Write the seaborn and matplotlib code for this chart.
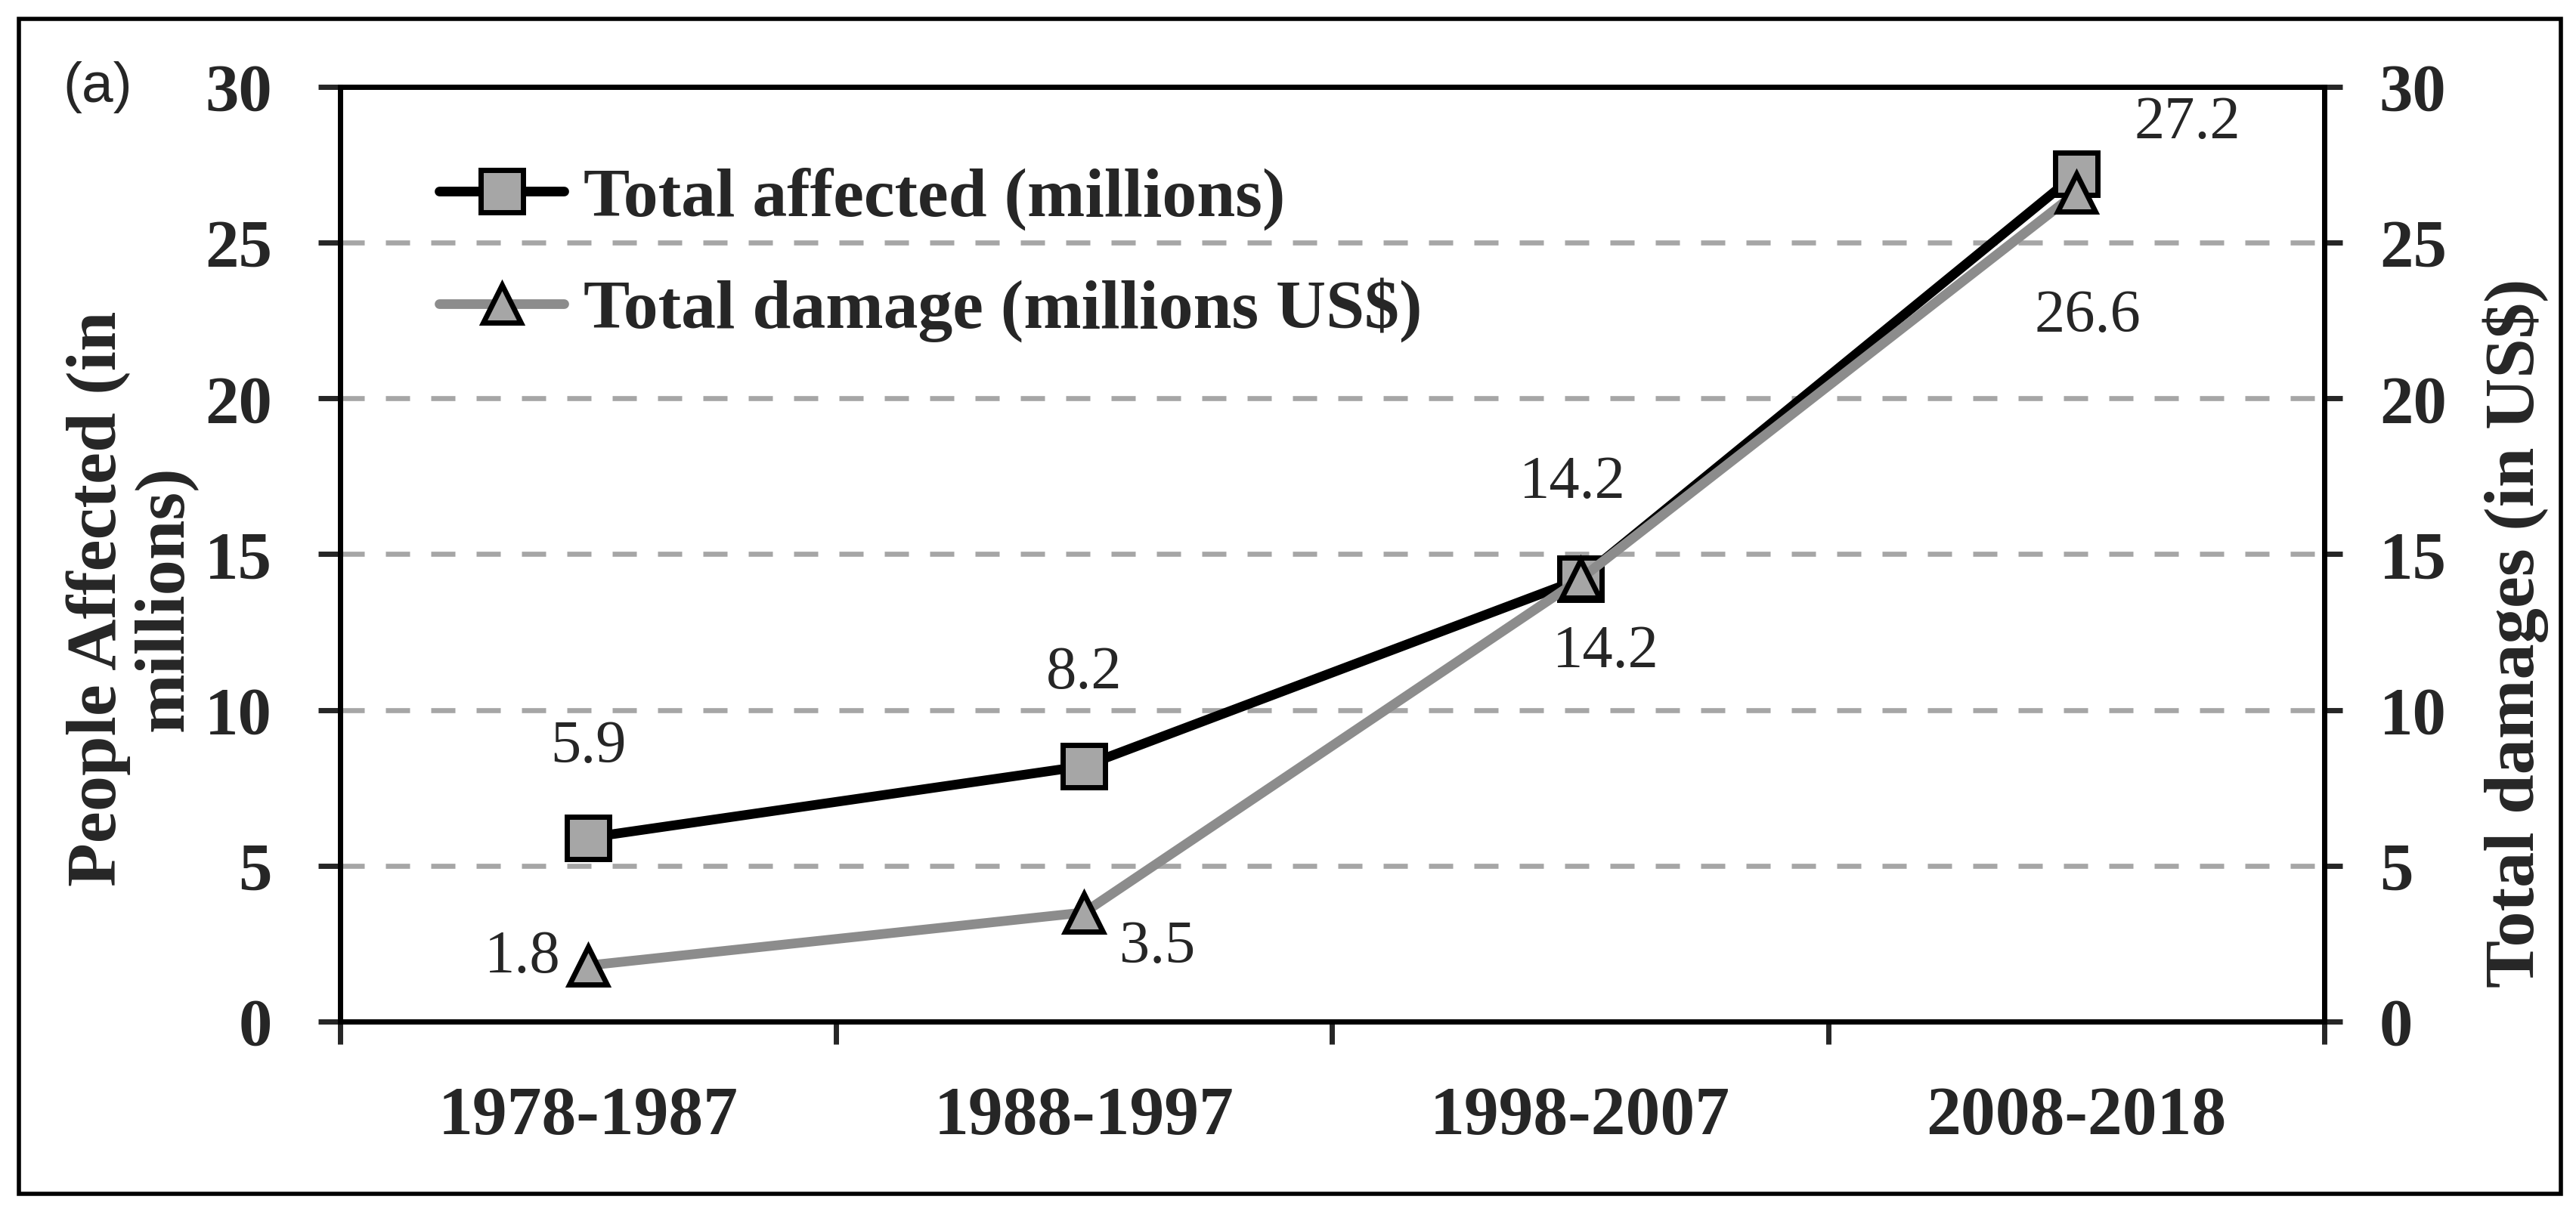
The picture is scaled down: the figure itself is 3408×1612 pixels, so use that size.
import numpy as np
import pandas as pd
import matplotlib
matplotlib.use("Agg")
from matplotlib import pyplot as plt
from matplotlib.patches import Rectangle
import seaborn as sns

# data
periods = ["1978-1987", "1988-1997", "1998-2007", "2008-2018"]
affected = [5.9, 8.2, 14.2, 27.2]
damage = [1.8, 3.5, 14.2, 26.6]
y_ticks = [0, 5, 10, 15, 20, 25, 30]

# label offsets (points) and alignment for each value label
affected_offsets = [(0, 43), (0, 44), (-3.6, 45.7), (53, 24)]
damage_offsets = [(-13, 3.6), (35, -17), (12, -35), (5.4, -59)]
damage_ha = ["right", "center", "center", "center"]

sns.set_style("white")
plt.rcParams['font.family'] = ['Liberation Serif', 'DejaVu Serif']

df = pd.DataFrame({"period": periods, "affected": affected, "damage": damage})
df["pos"] = np.arange(len(periods))

fig, ax = plt.subplots(figsize=(17.04, 8.06), dpi=200)
fig.subplots_adjust(left=0.132, right=0.9023, bottom=0.1613, top=0.9287)

sns.lineplot(data=df, x="pos", y="affected", ax=ax, sort=False, color="black", lw=4.6,
             marker="s", markersize=20, markerfacecolor="#a6a6a6",
             markeredgecolor="black", markeredgewidth=2.5,
             label="Total affected (millions)")
sns.lineplot(data=df, x="pos", y="damage", ax=ax, sort=False, color="#8c8c8c", lw=4.6,
             marker="^", markersize=18, markerfacecolor="#a6a6a6",
             markeredgecolor="black", markeredgewidth=2.5,
             label="Total damage (millions US\\$)")

# value labels
for i, v in enumerate(affected):
    ax.annotate(f"{v:.1f}", (df["pos"][i], v), xytext=affected_offsets[i],
                textcoords="offset points", ha="center", va="center", fontsize=29)
for i, v in enumerate(damage):
    ax.annotate(f"{v:.1f}", (df["pos"][i], v), xytext=damage_offsets[i],
                textcoords="offset points", ha=damage_ha[i], va="center", fontsize=29)

# axes, excel style
ax.set_xlim(-0.5, len(periods) - 0.5)
ax.set_ylim(0, 30)
ax.set_xticks(df["pos"], periods)
ax.set_xticks(np.arange(-0.5, len(periods)), minor=True)
ax.tick_params(axis="x", which="major", length=0, pad=31, labelsize=33)
ax.tick_params(axis="x", which="minor", length=10.8, width=2.5, direction="out", bottom=True)
ax.set_yticks(y_ticks)
ax.tick_params(axis="y", length=10.4, width=2.5, direction="out", left=True, pad=22, labelsize=32)
ax.set_xlabel("")
ax.grid(axis="y", color="#a6a6a6", lw=2.4, linestyle=(0, (4.8, 4.2)))
for s in ax.spines.values():
    s.set_linewidth(2.5)
    s.set_color("black")

ax2 = ax.twinx()
ax2.set_ylim(0, 30)
ax2.set_yticks(y_ticks)
ax2.tick_params(axis="y", length=8.6, width=2.5, direction="out", right=True, pad=17.6, labelsize=32)
for k in ["left", "top", "bottom"]:
    ax2.spines[k].set_visible(False)
ax2.spines["right"].set_linewidth(2.5)
ax2.spines["right"].set_color("black")

for lbl in ax.get_xticklabels() + ax.get_yticklabels() + ax2.get_yticklabels():
    lbl.set_fontweight("bold")

ax.set_ylabel("People Affected (in\nmillions)", fontsize=34, fontweight="bold",
              linespacing=1.05, va="center")
ax.yaxis.set_label_coords(-0.1051, 0.4527)
ax2.set_ylabel("Total damages (in US\\$)", fontsize=34, fontweight="bold", va="center")
ax2.yaxis.set_label_coords(1.0964, 0.4155)

ax.legend(loc="upper left", bbox_to_anchor=(0.05, 0.914), frameon=False,
          borderaxespad=0, borderpad=0, handlelength=1.8, handletextpad=0.28,
          labelspacing=0.68, prop={"weight": "bold", "size": 33})

# panel letter and outer frame
fig.text(129 / 3408, 1 - 116 / 1612, "(a)", ha="center", va="center", fontsize=27,
         family="Liberation Sans")
fig.patches.append(Rectangle((25 / 3408, 1 - 1580 / 1612), 3363 / 3408, 1555 / 1612,
                             transform=fig.transFigure, fill=False, lw=2, color="black"))

fig.savefig("out.png", dpi=200)
